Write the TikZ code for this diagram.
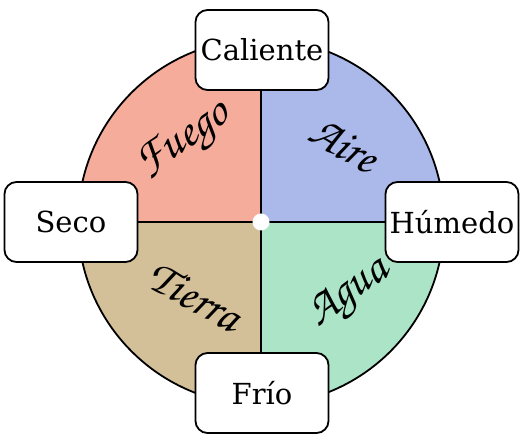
\documentclass[tikz,border=0pt]{standalone}
\usepackage[T1]{fontenc}
\usepackage{fontspec}
\setmainfont{DejaVu Serif}
\usetikzlibrary{positioning}
\newcommand{\chancery}{\fontencoding{T1}\fontfamily{pzc}\fontseries{mb}\fontshape{it}\selectfont}
\definecolor{fuegocol}{RGB}{245,172,155}
\definecolor{airecol}{RGB}{170,184,234}
\definecolor{tierracol}{RGB}{212,192,152}
\definecolor{aguacol}{RGB}{172,228,200}

\begin{document}
\begin{tikzpicture}[
  x=1pt, y=1pt,
  box/.style={draw, line width=1.8pt, rounded corners=12pt, fill=white, align=center,
    minimum width=133pt, minimum height=80pt, inner sep=3pt,
    font=\fontsize{29}{32}\selectfont},
  elem/.style={font=\chancery\fontsize{47}{50}\selectfont, inner sep=0pt},
  rim/.style={line width=1.8pt},
  cross/.style={line width=2.4pt}
]
\useasboundingbox (-261,-222) rectangle (266,222);
\def\rad{183}
% quadrants
\fill[fuegocol] (0,0) -- (180:\rad) arc[start angle=180, end angle=90, radius=\rad] -- cycle;
\fill[airecol] (0,0) -- (90:\rad) arc[start angle=90, end angle=0, radius=\rad] -- cycle;
\fill[aguacol] (0,0) -- (0:\rad) arc[start angle=0, end angle=-90, radius=\rad] -- cycle;
\fill[tierracol] (0,0) -- (-90:\rad) arc[start angle=-90, end angle=-180, radius=\rad] -- cycle;
\draw[rim] (0,0) circle[radius=\rad];
\coordinate (o) at (0,0);
\coordinate (n) at (90:\rad);
\coordinate (s) at (-90:\rad);
\coordinate (w) at (180:\rad);
\coordinate (e) at (0:\rad);
\draw[cross] (n) -- (s);
\draw[cross] (w) -- (e);
% elements
\node[elem, rotate=34] (fuego) at (-76,80) {Fuego};
\node[elem, rotate=-30] (aire) at (83,77) {Aire};
\node[elem, rotate=-29] (tierra) at (-66,-74) {Tierra};
\node[elem, rotate=36] (agua) at (89,-73) {Agua};
% qualities
\node[box] (caliente) at (1,172) {Caliente};
\node[box] (frio) at (1,-171) {Frío};
\node[box] (seco) at (-190,0) {Seco};
\node[box] (humedo) at (191,0) {Húmedo};
\fill[white] (o) circle[radius=8.5];
\end{tikzpicture}
\end{document}
